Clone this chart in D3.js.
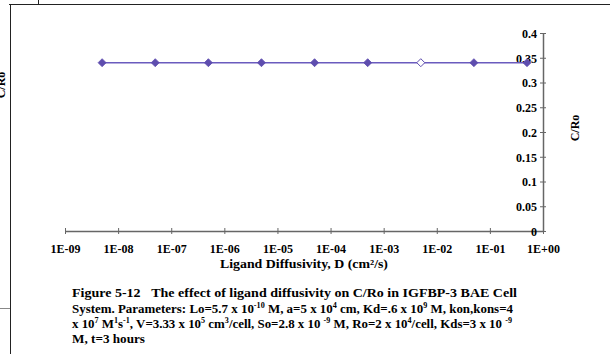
<!DOCTYPE html>
<html><head><meta charset="utf-8">
<script src="https://cdn.jsdelivr.net/npm/d3@7"></script>
<style>body{margin:0;background:#fff}svg{display:block}text{font-family:"Liberation Serif","Times New Roman",serif;font-weight:bold;fill:#000}</style>
</head><body><svg id="c" width="610" height="354"></svg>
<script>
const diffusivity = [5e-9, 5e-8, 5e-7, 5e-6, 5e-5, 5e-4, 5e-3, 5e-2, 5e-1];
const cRo = [0.34, 0.34, 0.34, 0.34, 0.34, 0.34, 0.34, 0.34, 0.34];
const hollow = [false, false, false, false, false, false, true, false, false];
const xTicks = [1e-9, 1e-8, 1e-7, 1e-6, 1e-5, 1e-4, 1e-3, 1e-2, 1e-1, 1e0];
const xTickLabels = ["1E-09","1E-08","1E-07","1E-06","1E-05","1E-04","1E-03","1E-02","1E-01","1E+00"];
const yTicks = [0, 0.05, 0.1, 0.15, 0.2, 0.25, 0.3, 0.35, 0.4];
const yTickLabels = ["0","0.05","0.1","0.15","0.2","0.25","0.3","0.35","0.4"];
const xTitle = "Ligand Diffusivity, D (cm\u00B2/s)";
const yTitle = "C/Ro";

const svg = d3.select("#c");
const x = d3.scaleLog().domain([1e-9, 1]).range([65, 543]);
const y = d3.scaleLinear().domain([0, 0.4]).range([231, 33]);
const axisCol = "#666";

// page frame fragments
svg.append("line").attr("x1",9).attr("x2",610).attr("y1",4.5).attr("y2",4.5).attr("stroke","#222").attr("stroke-width",1);
svg.append("line").attr("x1",10.5).attr("x2",10.5).attr("y1",4).attr("y2",354).attr("stroke","#222").attr("stroke-width",1);
svg.append("line").attr("x1",38.5).attr("x2",38.5).attr("y1",0).attr("y2",4).attr("stroke","#222").attr("stroke-width",1);
svg.append("line").attr("x1",0).attr("x2",10).attr("y1",308.5).attr("y2",308.5).attr("stroke","#888").attr("stroke-width",1);
svg.append("text").attr("transform","translate(5,85) rotate(-90)").attr("text-anchor","middle").style("font-size","12px").text(yTitle);

// x axis
const xAxis = d3.axisBottom(x).tickValues(xTicks).tickFormat((d,i)=>xTickLabels[i]).tickSize(3).tickSizeOuter(0).tickPadding(10);
const gx = svg.append("g").attr("transform","translate(0,231)").call(xAxis);
gx.select(".domain").attr("stroke",axisCol).attr("stroke-width",1.5);
gx.selectAll(".tick line").attr("stroke",axisCol).attr("y1",-3);
gx.selectAll(".tick text").style("font-size","12px").attr("font-family","Liberation Serif").attr("font-weight","bold").attr("fill","#000");

// y axis at right, labels on left
const yAxis = d3.axisLeft(y).tickValues(yTicks).tickFormat((d,i)=>yTickLabels[i]).tickSize(3).tickSizeOuter(0).tickPadding(3);
const gy = svg.append("g").attr("transform","translate(543,0)").call(yAxis);
gy.select(".domain").attr("stroke",axisCol).attr("stroke-width",1.5);
gy.selectAll(".tick line").attr("stroke",axisCol).attr("x2",3).attr("x1",-3);
gy.selectAll(".tick text").style("font-size","12px").attr("font-family","Liberation Serif").attr("font-weight","bold").attr("fill","#000").attr("dy","0.36em");

// titles
svg.append("text").attr("x",220).attr("y",268).style("font-size","12.5px")
  .attr("textLength",168).attr("lengthAdjust","spacingAndGlyphs").text(xTitle);
svg.append("text").attr("transform","translate(579,128) rotate(-90)").attr("text-anchor","middle").style("font-size","12px").text(yTitle);

// series
const data = diffusivity.map((d,i)=>({d, v:cRo[i], h:hollow[i]}));
const col = "#5E4DAE";
svg.append("path").datum(data).attr("fill","none").attr("stroke","#6A5BBE").attr("stroke-width",1.5)
  .attr("d", d3.line().x(p=>x(p.d)).y(p=>y(p.v)));
svg.selectAll("path.m").data(data).enter().append("path").attr("class","m")
  .attr("transform",p=>`translate(${x(p.d)},${y(p.v)})`)
  .attr("d","M0,-4L4,0L0,4L-4,0Z")
  .attr("fill",p=>p.h?"#fff":col).attr("stroke",col).attr("stroke-width",p=>p.h?1:0.8);

// caption
const lines = [
  [["Figure 5-12",0],["\u00A0\u00A0\u00A0The effect of ligand diffusivity on C/Ro in IGFBP-3 BAE Cell",0]],
  [["System. Parameters: Lo=5.7 x 10",0],["-10",1],[" M, a=5 x 10",0],["4",1],[" cm, Kd=.6 x 10",0],["9",1],[" M, kon,kons=4",0]],
  [["x 10",0],["7",1],[" M",0],["1",1],["s",0],["-1",1],[", V=3.33 x 10",0],["5",1],[" cm",0],["3",1],["/cell, So=2.8 x 10 ",0],["-9",1],[" M, Ro=2 x 10",0],["4",1],["/cell, Kds=3 x 10 ",0],["-9",1]],
  [["M, t=3 hours",0]]
];
const lineWidths = [445, 441, 440, 73];
const baselines = [297, 313, 328, 343];
lines.forEach((segs,li)=>{
  const t = svg.append("text").attr("x",72).attr("y",baselines[li]).style("font-size","13.5px")
    .attr("textLength",lineWidths[li]).attr("lengthAdjust","spacingAndGlyphs");
  segs.forEach(([s,sup])=>{
    const ts = t.append("tspan").text(s).style("font-size", sup ? "8.5px" : "13.5px");
    if (sup) ts.attr("baseline-shift","5");
  });
});
</script></body></html>
